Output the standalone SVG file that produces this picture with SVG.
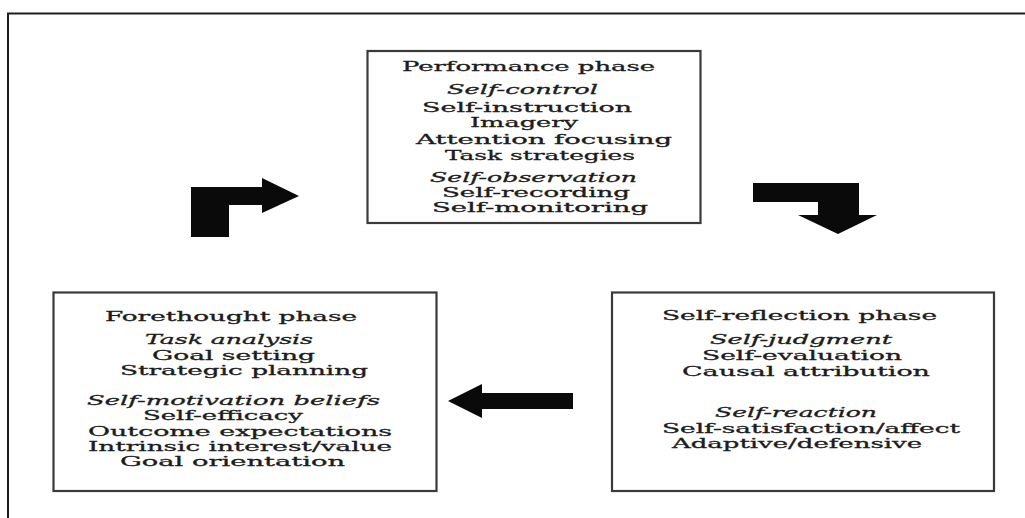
<svg xmlns="http://www.w3.org/2000/svg" width="1025" height="518" viewBox="0 0 1025 518">
<style>
.frame{fill:none;stroke:#1e1e1e;stroke-width:2}
.box{fill:#fff;stroke:#3a3a3a;stroke-width:2.2}
text{font-family:"DejaVu Serif","Liberation Serif",serif;font-size:13px;fill:#1c1c1c;stroke:#1c1c1c;stroke-width:0.3}
.it{font-style:italic}
.arrow{fill:#0a0a0a;stroke:none}
</style>
<rect width="1025" height="518" fill="#fff"/>
<path class="frame" d="M8,518 V13.5 H1025"/>

<g id="node-performance">
<rect class="box" x="367.5" y="51" width="333" height="172"/>
<text x="402" y="70.5" textLength="253" lengthAdjust="spacingAndGlyphs">Performance phase</text>
<text class="it" x="447" y="94" textLength="151" lengthAdjust="spacingAndGlyphs">Self-control</text>
<text x="422" y="111.5" textLength="210" lengthAdjust="spacingAndGlyphs">Self-instruction</text>
<text x="470" y="127" textLength="108" lengthAdjust="spacingAndGlyphs">Imagery</text>
<text x="416" y="143.5" textLength="256" lengthAdjust="spacingAndGlyphs">Attention focusing</text>
<text x="445" y="160" textLength="190" lengthAdjust="spacingAndGlyphs">Task strategies</text>
<text class="it" x="430" y="182" textLength="207" lengthAdjust="spacingAndGlyphs">Self-observation</text>
<text x="442" y="197" textLength="188" lengthAdjust="spacingAndGlyphs">Self-recording</text>
<text x="432" y="212" textLength="216" lengthAdjust="spacingAndGlyphs">Self-monitoring</text>
</g>

<g id="node-forethought">
<rect class="box" x="53.5" y="292.5" width="383" height="198.5"/>
<text x="105" y="320.5" textLength="252" lengthAdjust="spacingAndGlyphs">Forethought phase</text>
<text class="it" x="145" y="344" textLength="168" lengthAdjust="spacingAndGlyphs">Task analysis</text>
<text x="152" y="359.5" textLength="163" lengthAdjust="spacingAndGlyphs">Goal setting</text>
<text x="120" y="375" textLength="248" lengthAdjust="spacingAndGlyphs">Strategic planning</text>
<text class="it" x="87" y="404.5" textLength="293" lengthAdjust="spacingAndGlyphs">Self-motivation beliefs</text>
<text x="143" y="420" textLength="160" lengthAdjust="spacingAndGlyphs">Self-efficacy</text>
<text x="88" y="435.5" textLength="304" lengthAdjust="spacingAndGlyphs">Outcome expectations</text>
<text x="88" y="450.5" textLength="304" lengthAdjust="spacingAndGlyphs">Intrinsic interest/value</text>
<text x="120" y="465.5" textLength="225" lengthAdjust="spacingAndGlyphs">Goal orientation</text>
</g>

<g id="node-selfreflection">
<rect class="box" x="612" y="292.5" width="382" height="198.5"/>
<text x="662" y="320" textLength="275" lengthAdjust="spacingAndGlyphs">Self-reflection phase</text>
<text class="it" x="710" y="344" textLength="182" lengthAdjust="spacingAndGlyphs">Self-judgment</text>
<text x="702" y="359.5" textLength="200" lengthAdjust="spacingAndGlyphs">Self-evaluation</text>
<text x="682" y="375.5" textLength="248" lengthAdjust="spacingAndGlyphs">Causal attribution</text>
<text class="it" x="715" y="417" textLength="162" lengthAdjust="spacingAndGlyphs">Self-reaction</text>
<text x="662" y="432.5" textLength="298" lengthAdjust="spacingAndGlyphs">Self-satisfaction/affect</text>
<text x="672" y="448" textLength="250" lengthAdjust="spacingAndGlyphs">Adaptive/defensive</text>
</g>

<g id="connectors">
<polygon id="arrow-forethought-performance" class="arrow" points="191,187 262,187 262,178 299,196 262,213 262,205 229,205 229,237 191,237"/>
<polygon id="arrow-performance-selfreflection" class="arrow" points="753,183 859,183 859,215 877,215 838,234 798,215 818,215 818,202 753,202"/>
<polygon id="arrow-selfreflection-forethought" class="arrow" points="448,401 482,384 482,393 573,393 573,409 482,409 482,418"/>
</g>
</svg>
